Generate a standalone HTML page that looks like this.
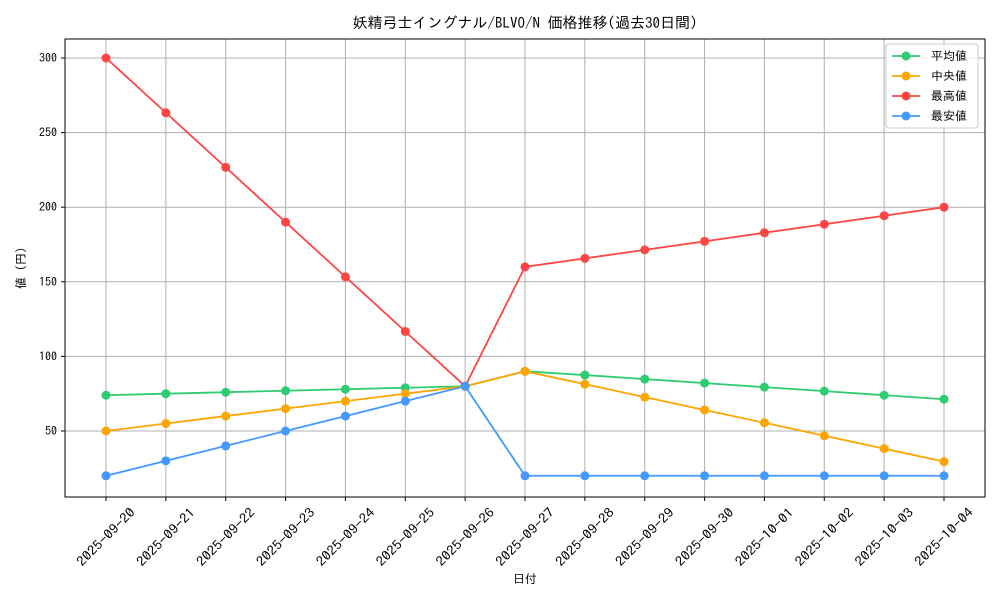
<!DOCTYPE html>
<html><head><meta charset="utf-8"><style>
body{margin:0;background:#fff;}
svg text{font-family:"IPAGothic","Liberation Sans","Noto Sans CJK JP",sans-serif;fill:#000;}
</style></head><body>
<svg id="chart" width="1000" height="600" xmlns="http://www.w3.org/2000/svg">
<rect width="1000" height="600" fill="#fff"/>
<text x="525" y="28" text-anchor="middle" font-size="15">妖精弓士イングナル/BLVO/N 価格推移(過去30日間)</text>
<g id="grid"></g>
<g id="lines"></g>
<rect x="65" y="39" width="920" height="458" fill="none" stroke="#000" stroke-width="1"/>
<g id="ticks"></g>
<text x="525" y="583" text-anchor="middle" font-size="12">日付</text>
<text transform="translate(25,268) rotate(-90)" text-anchor="middle" font-size="12">値 (円)</text>
<g id="legend"></g>
</svg>
<script>
const dates=["2025-09-20","2025-09-21","2025-09-22","2025-09-23","2025-09-24","2025-09-25","2025-09-26","2025-09-27","2025-09-28","2025-09-29","2025-09-30","2025-10-01","2025-10-02","2025-10-03","2025-10-04"];
const avgValues=[74,75,76,77,78,79,80,90,87.5,84.8,82.1,79.4,76.7,74,71.3];
const medianValues=[50,55,60,65,70,75,80,90,81.4,72.7,64.1,55.5,46.8,38.2,29.5];
const maxValues=[300,263.3,226.7,190,153.3,116.7,80,160,165.7,171.4,177.1,182.9,188.6,194.3,200];
const minValues=[20,30,40,50,60,70,80,20,20,20,20,20,20,20,20];
const yTicks=[50,100,150,200,250,300];
const seriesNames=["平均値","中央値","最高値","最安値"];
const seriesColors=["#2ecc71","#ffa500","#ff4444","#4499ff"];
const seriesKeys=["avg","median","max","min"];
const seriesData=[avgValues,medianValues,maxValues,minValues];

const NS="http://www.w3.org/2000/svg";
const X0=106,DX=(944-106)/14;
function xs(i){return X0+i*DX;}
function ys(v){return 431-(v-50)*(373/250);}
function mk(tag,attrs,parent){const e=document.createElementNS(NS,tag);for(const k in attrs)e.setAttribute(k,attrs[k]);parent.appendChild(e);return e;}
const grid=document.getElementById('grid'),ticks=document.getElementById('ticks'),lines=document.getElementById('lines'),legend=document.getElementById('legend');

dates.forEach((d,i)=>{
  const g=mk('line',{x1:xs(i),x2:xs(i),y1:39,y2:497,stroke:'#b0b0b0','stroke-width':1},grid);
  
  
  const t=mk('line',{x1:xs(i),x2:xs(i),y1:497,y2:501,stroke:'#000'},ticks);
  
  
  const cx=xs(i),cy=537;
  const l=mk('text',{x:cx,y:cy+4.5,'font-size':13,'text-anchor':'middle',textLength:76,lengthAdjust:'spacingAndGlyphs',transform:`rotate(-45 ${cx} ${cy})`},ticks);
  l.textContent=d;
  
  
});
yTicks.forEach(v=>{
  const g=mk('line',{x1:65,x2:985,y1:ys(v),y2:ys(v),stroke:'#b0b0b0','stroke-width':1},grid);
  
  
  const t=mk('line',{x1:61,x2:65,y1:ys(v),y2:ys(v),stroke:'#000'},ticks);
  
  
  const l=mk('text',{x:57,y:ys(v)+4,'font-size':12,'text-anchor':'end'},ticks);
  l.textContent=v;
  
  
});
seriesData.forEach((arr,s)=>{
  const g=mk('g',{},lines);
  
  
  const p=mk('polyline',{points:arr.map((v,i)=>xs(i)+','+ys(v)).join(' '),fill:'none',stroke:seriesColors[s],'stroke-width':1.8},g);
  
  
  arr.forEach((v,i)=>{
    const c=mk('circle',{cx:xs(i),cy:ys(v),r:4.5,fill:seriesColors[s]},g);
    
    
  });
});
const box=mk('rect',{x:886,y:44,width:92,height:84,rx:3,fill:'#fff','fill-opacity':0.85,stroke:'#ccc'},legend);


seriesNames.forEach((n,s)=>{
  const y=56+s*20;
  const g=mk('g',{},legend);
  
  
  mk('line',{x1:892,x2:920,y1:y,y2:y,stroke:seriesColors[s],'stroke-width':1.8},g);
  mk('circle',{cx:906,cy:y,r:4.5,fill:seriesColors[s]},g);
  const t=mk('text',{x:931,y:y+4,'font-size':12},g);
  t.textContent=n;
});
</script>
</body></html>
